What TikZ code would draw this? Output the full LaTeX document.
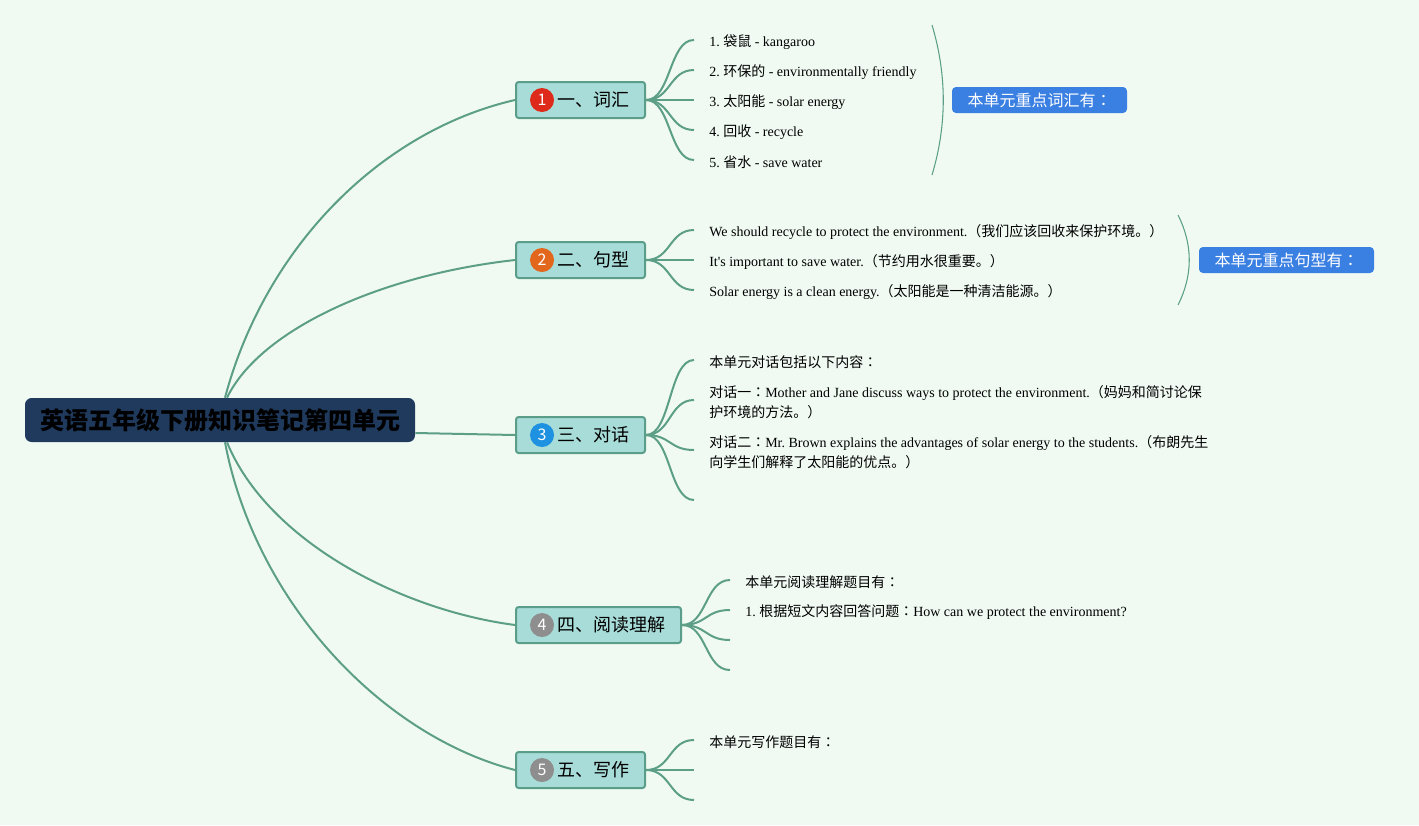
\documentclass[tikz,border=0pt]{standalone}
\usepackage{fontspec}
\setmainfont{Liberation Serif}
\newfontfamily\plainrm{Liberation Serif}
\newfontfamily\cjk{Noto Sans CJK SC}
\newfontfamily\cjkcolon{Noto Sans CJK TC}
\newcommand\fcolon{{\cjkcolon ：}}
\usetikzlibrary{positioning, calc}
\definecolor{mapbg}{HTML}{F0FAF3}
\definecolor{mapline}{HTML}{5C9E86}
\definecolor{topicfill}{HTML}{A8DCD8}
\definecolor{topicedge}{HTML}{5A9E8A}
\definecolor{rootfill}{HTML}{1F3A5C}
\definecolor{keyblue}{HTML}{3A7FE2}
\definecolor{dotred}{HTML}{DD2A1B}
\definecolor{dotorange}{HTML}{E2661C}
\definecolor{dotblue}{HTML}{1E92E0}
\definecolor{dotgray}{HTML}{8E8E8E}
\frenchspacing

\begin{document}
\begin{tikzpicture}[x=0.75pt, y=-0.75pt, font=\fontsize{10.5}{15}\selectfont,
  branch/.style={draw=mapline, line width=1.5pt},
  twig/.style={draw=mapline, line width=1.5pt},
  brace/.style={draw=mapline, line width=0.8pt},
  rootbox/.style={fill=rootfill, rounded corners=5pt, minimum width=292.5pt, minimum height=33pt, font=\cjk\bfseries\fontsize{18}{20}\selectfont},
  topicbox/.style={draw=topicedge, line width=1.5pt, fill=topicfill, rounded corners=2pt, minimum height=27pt, anchor=west},
  numdot/.style={circle, minimum size=18pt, inner sep=0pt, text=white, font=\cjk\fontsize{12}{12}\selectfont},
  topictext/.style={anchor=west, inner sep=0pt, font=\cjk\fontsize{13.5}{16}\selectfont},
  keybox/.style={fill=keyblue, rounded corners=3pt, minimum width=131.25pt, minimum height=19.5pt, text=white, font=\cjk\fontsize{12}{14}\selectfont},
  leaf/.style={inner sep=0pt, align=left, yshift=-1.5pt}]

\fill[mapbg] (0,0) rectangle (1419,825);
\useasboundingbox (0,0) rectangle (1419,825);

% root
\node[rootbox] (root) at (220,420) {英语五年级下册知识笔记第四单元};

% main topics
\node[topicbox, minimum width=96.75pt] (t1) at (515,100) {};
\node[numdot, fill=dotred] (d1) at (542,100) {1};
\node[topictext] (h1) at (557,100) {一、词汇};

\node[topicbox, minimum width=96.75pt] (t2) at (515,260) {};
\node[numdot, fill=dotorange] (d2) at (542,260) {2};
\node[topictext] (h2) at (557,260) {二、句型};

\node[topicbox, minimum width=96.75pt] (t3) at (515,435) {};
\node[numdot, fill=dotblue] (d3) at (542,435) {3};
\node[topictext] (h3) at (557,435) {三、对话};

\node[topicbox, minimum width=123.75pt] (t4) at (515,625) {};
\node[numdot, fill=dotgray] (d4) at (542,625) {4};
\node[topictext] (h4) at (557,625) {四、阅读理解};

\node[topicbox, minimum width=96.75pt] (t5) at (515,770) {};
\node[numdot, fill=dotgray] (d5) at (542,770) {5};
\node[topictext] (h5) at (557,770) {五、写作};

% root to topics
\draw[branch] ($(root.north)+(5,0)$) .. controls +(40,-150) and +(-135,31) .. (t1.west);
\draw[branch] ($(root.north)+(7,0)$) .. controls +(33,-68) and +(-135,15) .. (t2.west);
\draw[branch] ($(root.east)+(0,13)$) -- (t3.west);
\draw[branch] ($(root.south)+(7,0)$) .. controls +(40,98) and +(-115,-15) .. (t4.west);
\draw[branch] ($(root.south)+(5,0)$) .. controls +(30,158) and +(-135,-35) .. (t5.west);

% leaf ends
\foreach \y [count=\i] in {40,70,100,130,160} \coordinate (a\i) at (694,\y);
\foreach \y [count=\i] in {230,260,290} \coordinate (b\i) at (694,\y);
\foreach \y [count=\i] in {360,400,450,500} \coordinate (c\i) at (694,\y);
\foreach \y [count=\i] in {580,610,640,670} \coordinate (e\i) at (730,\y);
\foreach \y [count=\i] in {740,770,800} \coordinate (f\i) at (694,\y);

\foreach \i in {1,...,5} \draw[twig] (t1.east) .. controls +(25,0) and +(-25,0) .. (a\i);
\foreach \i in {1,...,3} \draw[twig] (t2.east) .. controls +(25,0) and +(-25,0) .. (b\i);
\foreach \i in {1,...,4} \draw[twig] (t3.east) .. controls +(25,0) and +(-25,0) .. (c\i);
\foreach \i in {1,...,4} \draw[twig] (t4.east) .. controls +(25,0) and +(-25,0) .. (e\i);
\foreach \i in {1,...,3} \draw[twig] (t5.east) .. controls +(25,0) and +(-25,0) .. (f\i);

% vocabulary
\node[leaf, right=11.25pt of a1] (w1) {1. {\cjk 袋鼠} - kangaroo};
\node[leaf, right=11.25pt of a2] (w2) {2. {\cjk 环保的} - environmentally friendly};
\node[leaf, right=11.25pt of a3] (w3) {3. {\cjk 太阳能} - solar energy};
\node[leaf, right=11.25pt of a4] (w4) {4. {\cjk 回收} - recycle};
\node[leaf, right=11.25pt of a5] (w5) {5. {\cjk 省水} - save water};
\draw[brace] (932,25) .. controls (947,75) and (947,125) .. (932,175);
\node[keybox] (k1) at (1039.5,100) {本单元重点词汇有\fcolon};

% sentences
\node[leaf, right=11.25pt of b1] (s1) {We should recycle to protect the environment.{\cjk （我们应该回收来保护环境。）}};
\node[leaf, right=11.25pt of b2] (s2) {{\plainrm It's} important to save water.{\cjk （节约用水很重要。）}};
\node[leaf, right=11.25pt of b3] (s3) {Solar energy is a clean energy.{\cjk （太阳能是一种清洁能源。）}};
\draw[brace] (1178,215) .. controls (1193,245) and (1193,275) .. (1178,305);
\node[keybox] (k2) at (1286.5,260) {本单元重点句型有\fcolon};

% dialogues
\node[leaf, right=11.25pt of c1] (g1) {{\cjk 本单元对话包括以下内容}\fcolon};
\node[leaf, right=11.25pt of c2] (g2) {{\cjk 对话一}\fcolon Mother and Jane discuss ways to protect the environment.{\cjk （妈妈和简讨论保}\\{\cjk 护环境的方法。）}};
\node[leaf, right=11.25pt of c3] (g3) {{\cjk 对话二}\fcolon Mr. Brown explains the advantages of solar energy to the students.{\cjk （布朗先生}\\{\cjk 向学生们解释了太阳能的优点。）}};

% reading
\node[leaf, right=11.25pt of e1] (r1) {{\cjk 本单元阅读理解题目有}\fcolon};
\node[leaf, right=11.25pt of e2] (r2) {1. {\cjk 根据短文内容回答问题}\fcolon How can we protect the environment?};

% writing
\node[leaf, right=11.25pt of f1] (p1) {{\cjk 本单元写作题目有}\fcolon};
\end{tikzpicture}
\end{document}
